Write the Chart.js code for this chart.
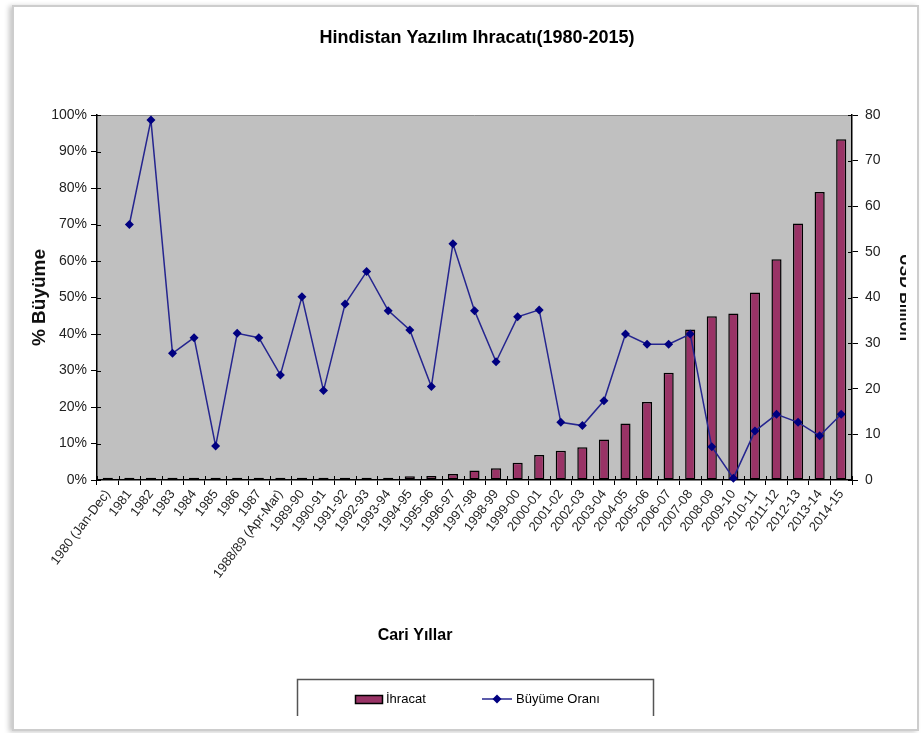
<!DOCTYPE html>
<html>
<head>
<meta charset="utf-8">
<script src="https://cdn.jsdelivr.net/npm/chart.js@4.4.1/dist/chart.umd.min.js"></script>
<style>
  html, body { margin: 0; padding: 0; background: #fff; }
  body { width: 921px; height: 733px; position: relative; overflow: hidden; }
  .card {
    position: absolute; left: 12px; top: 5px;
    width: 903px; height: 722px;
    border: 2px solid #cdcdcd;
    box-shadow: -3px 1px 5px rgba(0,0,0,0.22);
    background: #fff;
  }
  .clip { position: absolute; left: 0; top: 0; width: 906px; height: 716px; overflow: hidden; }
  .wrap { position: absolute; left: 0; top: 0; width: 921px; height: 733px; }
</style>
</head>
<body>
<div class="card"></div>
<div class="clip">
  <div class="wrap"><canvas id="exportChart"></canvas></div>
</div>
<script>
/* ---------- data ---------- */

const years = [
  '1980 (Jan-Dec)', '1981', '1982', '1983', '1984', '1985', '1986', '1987',
  '1988/89 (Apr-Mar)', '1989-90', '1990-91', '1991-92', '1992-93', '1993-94',
  '1994-95', '1995-96', '1996-97', '1997-98', '1998-99', '1999-00', '2000-01',
  '2001-02', '2002-03', '2003-04', '2004-05', '2005-06', '2006-07', '2007-08',
  '2008-09', '2009-10', '2010-11', '2011-12', '2012-13', '2013-14', '2014-15'
];

// software exports, USD billion (right axis)
const exportValues = [
  0.5, 0.5, 0.5, 0.5, 0.5, 0.5, 0.5, 0.5, 0.5, 0.5, 0.5, 0.5, 0.5, 0.5,
  0.8, 0.9, 1.3, 2.1, 2.6, 3.8, 5.5, 6.4, 7.2, 8.9, 12.4, 17.1, 23.5,
  33.0, 35.9, 36.5, 41.1, 48.4, 56.2, 63.1, 74.7
];

// yearly growth, % (left axis)
const growthValues = [
  null, 70.0, 98.6, 34.7, 39.0, 9.3, 40.2, 39.0, 28.8, 50.2, 24.5, 48.2,
  57.1, 46.4, 41.1, 25.6, 64.7, 46.4, 32.4, 44.7, 46.6, 15.8, 14.9, 21.7,
  40.0, 37.2, 37.2, 40.0, 9.1, 0.5, 13.4, 18.0, 15.8, 12.1, 18.0
];

const pctTicks = [0, 10, 20, 30, 40, 50, 60, 70, 80, 90, 100];
const usdTicks = [0, 10, 20, 30, 40, 50, 60, 70, 80];

/* ---------- styles ---------- */

const SANS = '"Liberation Sans", Arial, sans-serif';
const NARROW = '"Liberation Sans Narrow", "Liberation Sans", Arial, sans-serif';
const BAR_COLOR = '#993366';
const LINE_COLOR = '#25258f';

/* ---------- plugins ---------- */

// grey plot area with a thin top rule
const plotBg = {
  id: 'plotBg',
  beforeDraw(chart) {
    const { ctx, chartArea: a } = chart;
    ctx.save();
    ctx.fillStyle = '#c0c0c0';
    ctx.fillRect(a.left, a.top, a.width, a.height);
    ctx.strokeStyle = '#8a8a8a';
    ctx.lineWidth = 1;
    ctx.beginPath();
    ctx.moveTo(a.left, a.top + 0.5);
    ctx.lineTo(a.right, a.top + 0.5);
    ctx.stroke();
    ctx.restore();
  }
};

// short tick stubs on the inner side of every axis line
const innerTicks = {
  id: 'innerTicks',
  afterDatasetsDraw(chart) {
    const { ctx, chartArea: a, scales } = chart;
    ctx.save();
    ctx.strokeStyle = '#000';
    ctx.lineWidth = 1;
    ctx.beginPath();
    scales.y.ticks.forEach(t => {
      const py = Math.round(scales.y.getPixelForValue(t.value)) + 0.5;
      ctx.moveTo(a.left, py); ctx.lineTo(a.left + 4, py);
    });
    scales.y2.ticks.forEach(t => {
      const py = Math.round(scales.y2.getPixelForValue(t.value)) + 0.5;
      ctx.moveTo(a.right, py); ctx.lineTo(a.right - 4, py);
    });
    const step = scales.x.width / years.length;
    for (let i = 0; i <= years.length; i++) {
      const px = Math.round(scales.x.left + i * step) + 0.5;
      ctx.moveTo(px, a.bottom); ctx.lineTo(px, a.bottom - 4);
    }
    ctx.stroke();
    ctx.restore();
  }
};

// title, x axis caption and the boxed legend
const captions = {
  id: 'captions',
  afterDraw(chart) {
    const ctx = chart.ctx;
    const bars = chart.data.datasets[1];
    const line = chart.data.datasets[0];

    ctx.save();
    ctx.fillStyle = '#000';
    ctx.textBaseline = 'middle';

    ctx.textAlign = 'center';
    ctx.font = 'bold 18px ' + NARROW;
    ctx.fillText('Hindistan Yazılım Ihracatı(1980-2015)', 477, 38);

    ctx.font = 'bold 16px ' + NARROW;
    ctx.fillText('Cari Yıllar', 415, 636);

    // legend frame, open at the bottom
    ctx.strokeStyle = '#555';
    ctx.lineWidth = 1.5;
    ctx.beginPath();
    ctx.moveTo(297.5, 716);
    ctx.lineTo(297.5, 679.5);
    ctx.lineTo(653.5, 679.5);
    ctx.lineTo(653.5, 716);
    ctx.stroke();

    ctx.fillStyle = bars.backgroundColor;
    ctx.fillRect(355, 695, 27, 8);
    ctx.strokeStyle = bars.borderColor;
    ctx.lineWidth = 1.5;
    ctx.strokeRect(355.5, 695.5, 27, 8);

    ctx.strokeStyle = line.borderColor;
    ctx.lineWidth = 1.5;
    ctx.beginPath();
    ctx.moveTo(482, 699);
    ctx.lineTo(512, 699);
    ctx.stroke();
    ctx.fillStyle = line.pointBackgroundColor;
    ctx.beginPath();
    ctx.moveTo(497, 694.5);
    ctx.lineTo(501.5, 699);
    ctx.lineTo(497, 703.5);
    ctx.lineTo(492.5, 699);
    ctx.closePath();
    ctx.fill();

    ctx.fillStyle = '#000';
    ctx.textAlign = 'left';
    ctx.font = '13px ' + SANS;
    ctx.fillText(bars.label, 386, 699);
    ctx.fillText(line.label, 516, 699);

    ctx.restore();
  }
};

/* ---------- chart ---------- */

const canvas = document.getElementById('exportChart');

new Chart(canvas, {
  data: {
    labels: years,
    datasets: [{
      type: 'line',
      label: 'Büyüme Oranı',
      data: growthValues,
      yAxisID: 'y',
      order: 0,
      borderColor: LINE_COLOR,
      borderWidth: 1.5,
      pointStyle: 'rectRot',
      pointRadius: 4.5,
      pointBackgroundColor: '#000080',
      pointBorderColor: '#000080',
      pointBorderWidth: 0,
      tension: 0,
      spanGaps: false,
      clip: false
    }, {
      type: 'bar',
      label: 'İhracat',
      data: exportValues,
      yAxisID: 'y2',
      order: 1,
      backgroundColor: BAR_COLOR,
      borderColor: '#000',
      borderWidth: 1.5,
      borderSkipped: false,
      barPercentage: 0.47,
      categoryPercentage: 1
    }]
  },
  options: {
    responsive: true,
    maintainAspectRatio: false,
    animation: false,
    layout: { padding: { top: 115, left: 0, right: 0, bottom: 0 } },
    plugins: {
      legend: { display: false },
      title: { display: false },
      tooltip: { enabled: false }
    },
    scales: {
      x: {
        offset: true,
        grid: { offset: true, drawOnChartArea: false, color: '#000', tickLength: 5 },
        border: { color: '#000', width: 1.5 },
        ticks: {
          autoSkip: false,
          minRotation: 53,
          maxRotation: 53,
          color: '#222',
          padding: 2,
          font: { family: SANS, size: 13 }
        },
        afterFit(scale) { scale.height = 253; }
      },
      y: {
        position: 'left',
        min: 0,
        max: 100,
        afterBuildTicks(scale) { scale.ticks = pctTicks.map(v => ({ value: v })); },
        ticks: {
          color: '#222',
          padding: 4,
          font: { family: SANS, size: 14 },
          callback: v => v + '%'
        },
        grid: { drawOnChartArea: false, color: '#000', tickLength: 6 },
        border: { color: '#000', width: 1.5 },
        title: {
          display: true,
          text: '% Büyüme',
          color: '#111',
          font: { family: SANS, size: 19, weight: 'bold' },
          padding: { top: 28, bottom: 0 }
        },
        afterFit(scale) { scale.width = 97; }
      },
      y2: {
        position: 'right',
        min: 0,
        max: 80,
        afterBuildTicks(scale) { scale.ticks = usdTicks.map(v => ({ value: v })); },
        ticks: {
          color: '#222',
          padding: 7,
          font: { family: SANS, size: 14 }
        },
        grid: { drawOnChartArea: false, color: '#000', tickLength: 6 },
        border: { color: '#000', width: 1.5 },
        title: {
          display: true,
          text: 'USD Billion',
          color: '#111',
          font: { family: SANS, size: 16, weight: 'bold' },
          padding: { top: 7, bottom: 0 }
        },
        afterFit(scale) { scale.width = 69; }
      }
    }
  },
  plugins: [plotBg, innerTicks, captions]
});
</script>
</body>
</html>
